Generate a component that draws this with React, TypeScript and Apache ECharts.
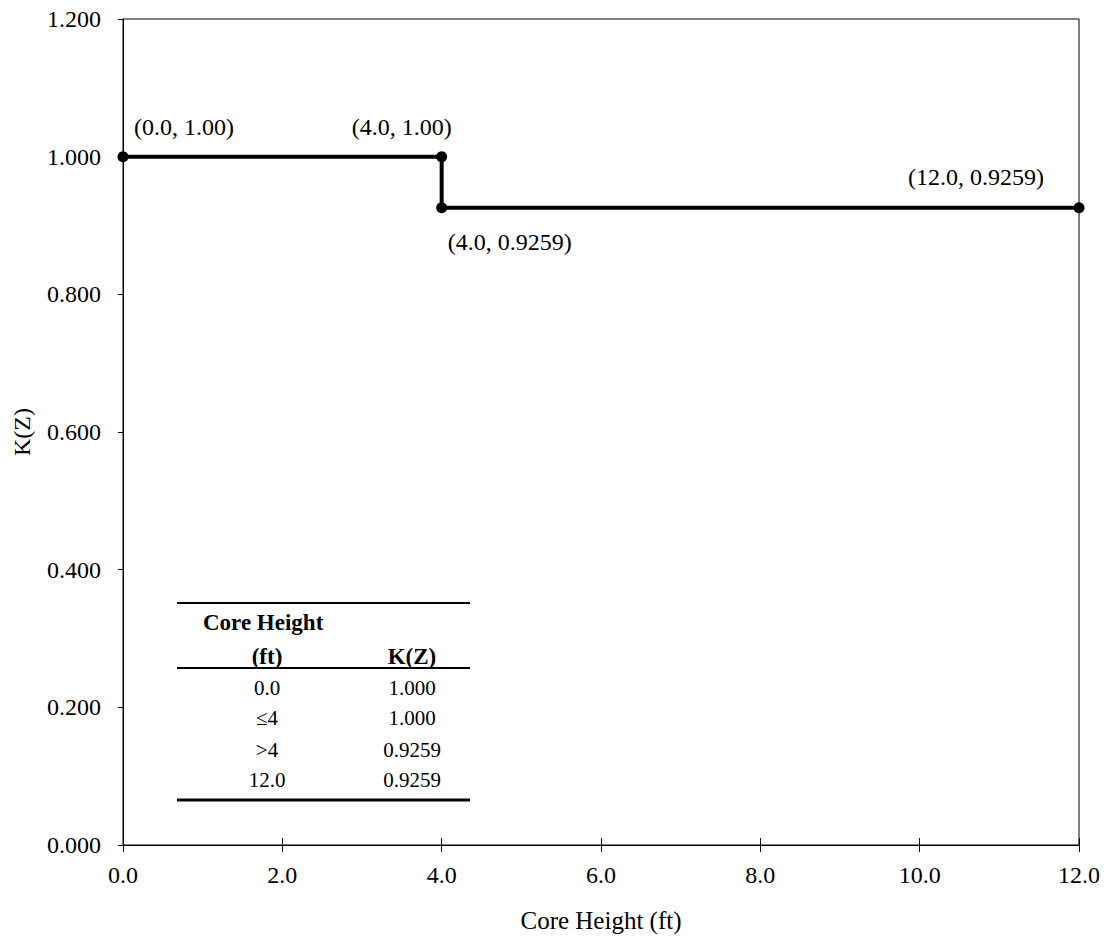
import React, { useEffect, useRef } from "react";
import * as echarts from "echarts";

const xValues = [0.0, 4.0, 4.0, 12.0];
const yValues = [1.0, 1.0, 0.9259, 0.9259];
const pointLabels = ["(0.0, 1.00)", "(4.0, 1.00)", "(4.0, 0.9259)", "(12.0, 0.9259)"];
const labelOffsets: [number, number][] = [[61, -30], [-40, -30], [68, 34], [-103, -31]];

const tableHeader1 = "Core Height";
const tableHeader2 = ["(ft)", "K(Z)"];
const tableCol1 = ["0.0", "\u22644", ">4", "12.0"];
const tableCol2 = ["1.000", "1.000", "0.9259", "0.9259"];

const FONT = "'Liberation Serif', 'DejaVu Serif', serif";

export default function App() {
  const ref = useRef<HTMLDivElement>(null);
  useEffect(() => {
    if (!ref.current) return;
    const chart = echarts.init(ref.current, null, { renderer: "svg" });
    const data = xValues.map((x, i) => ({
      value: [x, yValues[i]],
      label: {
        show: true,
        formatter: pointLabels[i],
        position: "inside",
        align: "center",
        verticalAlign: "middle",
        offset: labelOffsets[i],
        color: "#000",
        fontFamily: FONT,
        fontSize: 24,
      },
    }));

    const tblLeft = 177;
    const tblRight = 470;
    const c1 = 267;
    const c2 = 412;
    const rowY = [688, 718, 750, 780];
    const graphics: any[] = [
      { type: "line", shape: { x1: tblLeft, y1: 603, x2: tblRight, y2: 603 }, style: { stroke: "#000", lineWidth: 2 } },
      { type: "text", x: 203, y: 622, style: { text: tableHeader1, font: `bold 23px ${FONT}`, fill: "#000", textVerticalAlign: "middle" } },
      { type: "text", x: c1, y: 656, style: { text: tableHeader2[0], font: `bold 23px ${FONT}`, fill: "#000", textAlign: "center", textVerticalAlign: "middle" } },
      { type: "text", x: c2, y: 656, style: { text: tableHeader2[1], font: `bold 23px ${FONT}`, fill: "#000", textAlign: "center", textVerticalAlign: "middle" } },
      { type: "line", shape: { x1: tblLeft, y1: 668, x2: tblRight, y2: 668 }, style: { stroke: "#000", lineWidth: 2 } },
      { type: "line", shape: { x1: tblLeft, y1: 800, x2: tblRight, y2: 800 }, style: { stroke: "#000", lineWidth: 3 } },
    ];
    tableCol1.forEach((t, i) => {
      graphics.push({ type: "text", x: c1, y: rowY[i], style: { text: t, font: `21px ${FONT}`, fill: "#000", textAlign: "center", textVerticalAlign: "middle" } });
      graphics.push({ type: "text", x: c2, y: rowY[i], style: { text: tableCol2[i], font: `21px ${FONT}`, fill: "#000", textAlign: "center", textVerticalAlign: "middle" } });
    });

    chart.setOption({
      animation: false,
      backgroundColor: "#fff",
      grid: {
        left: 123, right: 30, top: 19, bottom: 100,
        show: true, borderColor: "#000", borderWidth: 1,
        outerBoundsMode: "none", containLabel: false,
      },
      xAxis: [
        {
          type: "value",
          min: 0,
          max: 12,
          interval: 2,
          name: "Core Height (ft)",
          nameLocation: "middle",
          nameGap: 63,
          nameTextStyle: { color: "#000", fontFamily: FONT, fontSize: 25 },
          axisLine: { show: true, lineStyle: { color: "#000", width: 1 } },
          axisTick: { show: true, inside: false, length: 7, lineStyle: { color: "#000" } },
          axisLabel: { color: "#000", fontFamily: FONT, fontSize: 24, margin: 18, formatter: (v: number) => v.toFixed(1) },
          splitLine: { show: false },
        },
        {
          type: "value",
          position: "bottom",
          min: 0,
          max: 12,
          interval: 2,
          axisLine: { show: false },
          axisTick: { show: true, inside: true, length: 7, lineStyle: { color: "#000" } },
          axisLabel: { show: false },
          splitLine: { show: false },
        },
      ],
      yAxis: {
        type: "value",
        min: 0,
        max: 1.2,
        interval: 0.2,
        name: "K(Z)",
        nameLocation: "middle",
        nameGap: 89,
        nameTextStyle: { color: "#000", fontFamily: FONT, fontSize: 24 },
        axisLine: { show: true, lineStyle: { color: "#000", width: 1 } },
        axisTick: { show: true, length: 5, lineStyle: { color: "#000" } },
        axisLabel: { color: "#000", fontFamily: FONT, fontSize: 24, margin: 22, formatter: (v: number) => v.toFixed(3) },
        splitLine: { show: false },
      },
      series: [
        {
          type: "line",
          data,
          symbol: "circle",
          symbolSize: 11,
          itemStyle: { color: "#000" },
          lineStyle: { color: "#000", width: 4 },
          clip: false,
        },
      ],
      graphic: graphics,
    });
    return () => chart.dispose();
  }, []);
  return <div ref={ref} style={{ width: 1109, height: 945, margin: -8 }} />;
}
